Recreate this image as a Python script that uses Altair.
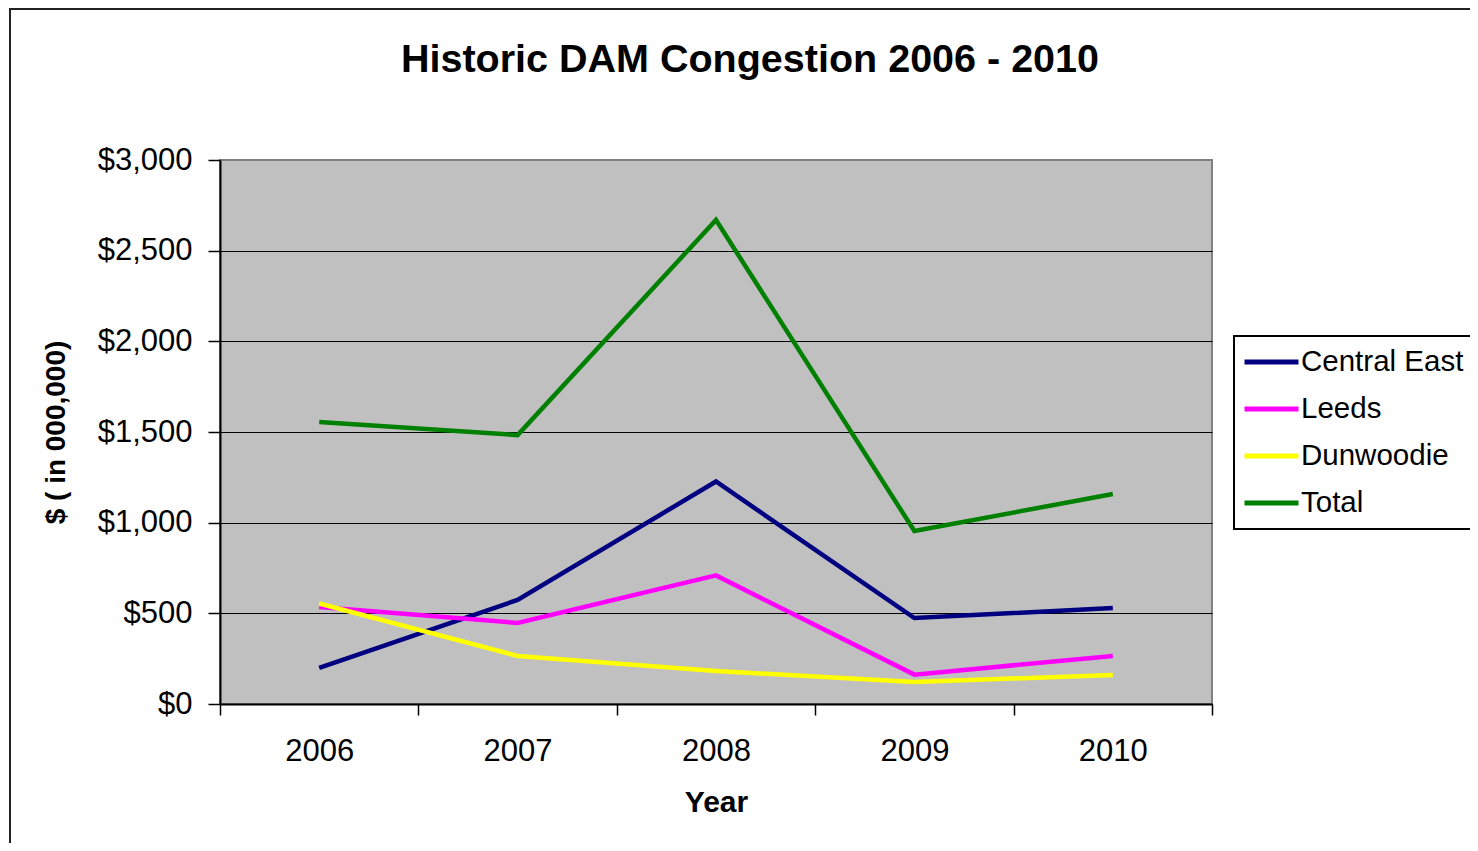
import altair as alt
import pandas as pd

years = [2006, 2007, 2008, 2009, 2010]
series = ["Central East", "Leeds", "Dunwoodie", "Total"]
central_east = [199, 574, 1227, 474, 529]
leeds = [535, 447, 709, 162, 265]
dunwoodie = [554, 265, 182, 121, 160]
total = [1555, 1483, 2669, 954, 1158]
colors = ["#000080", "#FF00FF", "#FFFF00", "#008000"]
y_ticks = [0, 500, 1000, 1500, 2000, 2500, 3000]
x_bounds = [2005.5, 2006.5, 2007.5, 2008.5, 2009.5, 2010.5]

rows = []
for name, vals in zip(series, [central_east, leeds, dunwoodie, total]):
    for yr, v in zip(years, vals):
        rows.append({"Year": yr, "Value": v, "Series": name})
df = pd.DataFrame(rows)

FONT = "Liberation Sans"

lines = alt.Chart(df).mark_line(strokeWidth=4.5).encode(
    x=alt.X(
        "Year:Q",
        scale=alt.Scale(domain=[x_bounds[0], x_bounds[-1]], nice=False, zero=False),
        axis=alt.Axis(
            values=x_bounds,
            labelExpr="datum.value < 2010 ? format(datum.value + 0.5, 'd') : ''",
            labelOffset=99.2,
            labelFlush=False,
            labelOverlap=False,
            labelPadding=21,
            labelFontSize=31,
            labelFont=FONT,
            labelColor="black",
            tickSize=11,
            tickColor="black",
            tickWidth=1.5,
            domainColor="black",
            domainWidth=2,
            grid=False,
            title="Year",
            titleFont=FONT,
            titleFontSize=30,
            titleFontWeight="bold",
            titleColor="black",
            titlePadding=21,
        ),
    ),
    y=alt.Y(
        "Value:Q",
        scale=alt.Scale(domain=[0, 3000], nice=False),
        axis=alt.Axis(
            values=y_ticks,
            format="$,.0f",
            labelPadding=16,
            labelFontSize=31,
            labelFont=FONT,
            labelColor="black",
            tickSize=12,
            tickColor="black",
            tickWidth=1.5,
            domainColor="black",
            domainWidth=2,
            grid=True,
            gridColor={"condition": {"test": "datum.value === 3000", "value": "#808080"}, "value": "black"},
            gridWidth=1.2,
            title="$ ( in 000,000)",
            titleFont=FONT,
            titleFontSize=28,
            titleFontWeight="bold",
            titleColor="black",
            titlePadding=27,
        ),
    ),
    color=alt.Color(
        "Series:N",
        scale=alt.Scale(domain=series, range=colors),
        legend=alt.Legend(
            title=None,
            orient="none",
            legendX=1014,
            legendY=176,
            fillColor="white",
            strokeColor="black",
            padding=8,
            labelFont=FONT,
            labelFontSize=29.5,
            labelColor="black",
            labelLimit=0,
            labelOffset=0,
            symbolType="stroke",
            symbolSize=2916,
            symbolStrokeWidth=5,
            symbolOffset=0,
            clipHeight=36,
            rowPadding=11,
        ),
    ),
)

one = pd.DataFrame({"k": [0]})
border_v = alt.Chart(one).mark_rule(color="#222222", strokeWidth=2).encode(
    x=alt.value(-210), y=alt.value(-152), y2=alt.value(720)
)
border_h = alt.Chart(one).mark_rule(color="#222222", strokeWidth=2).encode(
    x=alt.value(-211), x2=alt.value(1300), y=alt.value(-151)
)

chart = alt.layer(lines, border_v, border_h).properties(
    width=992,
    height=544,
    background="white",
    autosize=alt.AutoSizeParams(type="none"),
    padding={"left": 212, "top": 152, "right": 258, "bottom": 139},
    title=alt.TitleParams(
        text="Historic DAM Congestion 2006 - 2010",
        font=FONT,
        fontSize=39.5,
        fontWeight="bold",
        color="black",
        anchor="middle",
        dx=34,
        offset=-104,
        baseline="alphabetic",
    ),
).configure_view(
    fill="#C0C0C0", stroke="#808080", strokeWidth=2
).configure_legend(
    strokeWidth=2
)

chart.save("out.html", embed_options={"renderer": "svg", "actions": False})
